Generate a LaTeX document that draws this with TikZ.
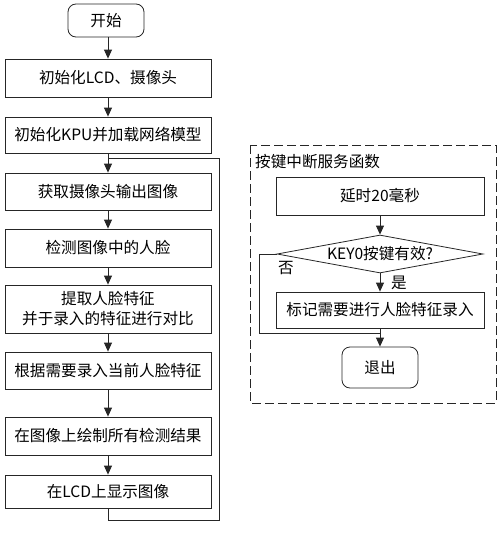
\documentclass[tikz,border=0pt]{standalone}
\usepackage{fontspec}
\setmainfont{Noto Sans CJK SC}
\usetikzlibrary{arrows.meta,shapes.geometric}
\begin{document}
\begin{tikzpicture}[x=1pt,y=-1pt,
  every node/.style={font=\fontsize{15.6}{20}\selectfont},
  line/.style={draw=black!85,line width=0.8pt},
  arr/.style={line,-{Triangle[width=8pt,length=9pt]}},
  procbox/.style={line,fill=white,rectangle,inner sep=0pt,align=center},
  termbox/.style={line,fill=white,rectangle,rounded corners=8pt,inner sep=0pt},
]
\useasboundingbox (0,0) rectangle (500,533);
% left column
\node[termbox,minimum width=76pt,minimum height=33pt] (st) at (106,20.5) {开始};
\node[procbox,minimum width=206pt,minimum height=38pt] (b1) at (108,78) {初始化LCD、摄像头};
\node[procbox,minimum width=206pt,minimum height=36pt] (b2) at (108,135) {初始化KPU并加载网络模型};
\node[procbox,minimum width=206pt,minimum height=37pt] (b3) at (108,191.5) {获取摄像头输出图像};
\node[procbox,minimum width=206pt,minimum height=38pt] (b4) at (108,248) {检测图像中的人脸};
\node[procbox,minimum width=206pt,minimum height=48pt] (b5) at (108,309) {提取人脸特征\\并于录入的特征进行对比};
\node[procbox,minimum width=206pt,minimum height=37pt] (b6) at (108,370.5) {根据需要录入当前人脸特征};
\node[procbox,minimum width=206pt,minimum height=38pt] (b7) at (108,436) {在图像上绘制所有检测结果};
\node[procbox,minimum width=206pt,minimum height=33pt] (b8) at (108,491.5) {在LCD上显示图像};
\draw[arr] (st.south -| b1.north) -- (b1.north);
\draw[arr] (b1) -- (b2);
\draw[arr] (b2) -- (b3);
\draw[arr] (b3) -- (b4);
\draw[arr] (b4) -- (b5);
\draw[arr] (b5) -- (b6);
\draw[arr] (b6) -- (b7);
\draw[arr] (b7) -- (b8);
\coordinate (rb) at (219,520);
\coordinate (rt) at (219,158);
\coordinate (j) at (108,158);
\draw[line] (b8.south) |- (rb) -- (rt) -- (j);
% right part
\draw[line,dash pattern=on 9pt off 4pt] (250,145) rectangle (496,403);
\node[anchor=west,inner sep=0pt] (title) at (255,162) {按键中断服务函数};
\node[procbox,minimum width=208pt,minimum height=38pt] (d1) at (380,196) {延时20毫秒};
\node[line,fill=white,diamond,minimum width=206pt,minimum height=38pt,inner sep=0pt] (dia) at (380,254) {};
\node (diat) at (dia.center) {KEY0按键有效?};
\node[procbox,minimum width=208pt,minimum height=36pt] (mk) at (380,310) {标记需要进行人脸特征录入};
\node[termbox,minimum width=76pt,minimum height=41pt] (ex) at (380,367.5) {退出};
\draw[arr] (d1) -- (dia.north);
\draw[arr] (dia.south) -- (mk.north);
\draw[arr] (mk) -- (ex);
\coordinate (nl) at (259,254);
\coordinate (nb) at (259,333);
\coordinate (nj) at (380,333);
\draw[line] (dia.west) -- (nl) -- (nb) -- (nj);
\node (no) at (286,268) {否};
\node (yes) at (399,283) {是};
\end{tikzpicture}
\end{document}
